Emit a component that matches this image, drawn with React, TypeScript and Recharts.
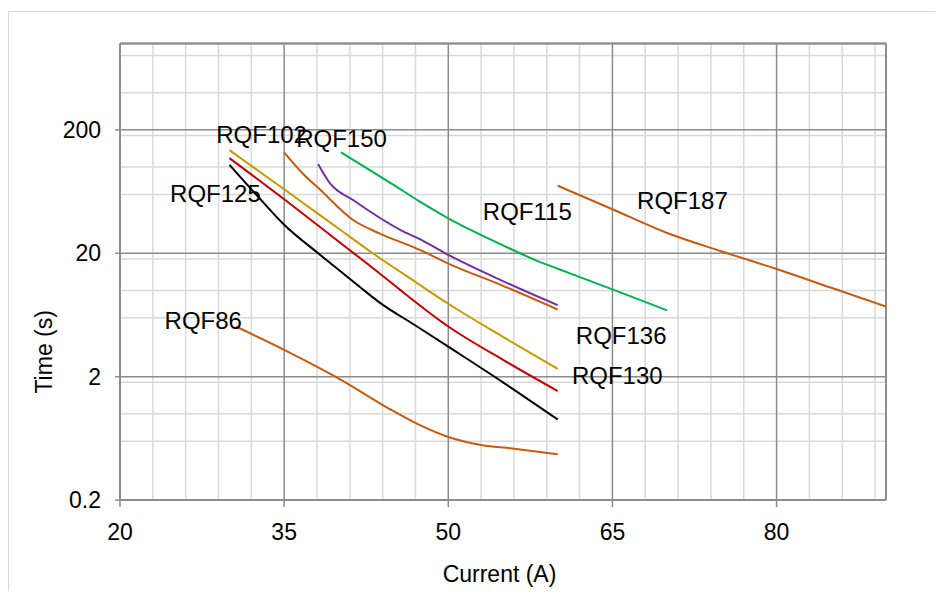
import React from "react";
import {
  CartesianGrid,
  Line,
  LineChart,
  ReferenceDot,
  ReferenceLine,
  XAxis,
  YAxis,
} from "recharts";

const FONT = '"Liberation Sans", Arial, Helvetica, sans-serif';

// axis ticks
const xTicks = [20, 35, 50, 65, 80];
const yTicks = [0.2, 2, 20, 200];
const xMinorTicks = [23, 26, 29, 32, 38, 41, 44, 47, 53, 56, 59, 62, 68, 71, 74, 77, 83, 86, 89];
const yMinorTicks = [
  0.4, 0.6, 0.8, 1, 1.2, 1.4, 1.6, 1.8,
  4, 6, 8, 10, 12, 14, 16, 18,
  40, 60, 80, 100, 120, 140, 160, 180,
  400, 600, 800,
];

// fuse curves: current (A) / time (s)
const blackX = [30, 32.5, 35, 38.3, 41.9, 43.7, 47, 50, 55, 60];
const blackY = [104, 59, 34, 19.4, 10.7, 8.0, 5.2, 3.5, 1.8, 0.9];

const redX = [30, 35, 40, 43.7, 45.6, 50, 55, 60];
const redY = [118, 54.8, 24.8, 13.8, 10.1, 5.1, 2.74, 1.53];

const goldX = [30, 35, 40, 43.1, 47, 50, 55, 60];
const goldY = [137, 66, 31.6, 20, 11.7, 7.8, 4.2, 2.31];

const orangeX = [35, 36.7, 38.3, 41.3, 43.7, 47.4, 50, 55, 60];
const orangeY = [131.6, 88.6, 65.3, 37.2, 29, 21.3, 16.5, 10.9, 7.0];

const purpleX = [38.1, 39.2, 41.3, 45.6, 47.4, 50, 55, 60];
const purpleY = [106, 73.8, 54, 31, 26, 19.4, 11.9, 7.6];

const greenX = [40.2, 45, 47.4, 50, 55, 58.3, 60, 65, 70];
const greenY = [131.6, 71.6, 52.4, 38.4, 23.2, 17.1, 15.0, 10.2, 6.9];

const rqf187X = [60, 65, 70, 75, 80, 85, 90];
const rqf187Y = [70.6, 45.5, 29.2, 20.7, 14.9, 10.5, 7.4];

const rqf86X = [30.6, 35, 40, 45, 47.4, 50, 53, 56.2, 60];
const rqf86Y = [5.1, 3.3, 1.93, 1.05, 0.81, 0.65, 0.56, 0.52, 0.47];

// curve labels, placed in data units
const labelNames = ["RQF102", "RQF150", "RQF125", "RQF86", "RQF115", "RQF136", "RQF130", "RQF187"];
const labelX = [32.94, 40.24, 28.72, 27.61, 57.22, 65.8, 65.44, 71.4];
const labelY = [184.6, 171.3, 61.4, 5.71, 43.6, 4.29, 2.03, 53.3];

const toPoints = (xs: number[], ys: number[]) => xs.map((x, i) => ({ x, y: ys[i] }));

const series = [
  { key: "black", color: "#000000", data: toPoints(blackX, blackY) },
  { key: "red", color: "#C00000", data: toPoints(redX, redY) },
  { key: "gold", color: "#C49A00", data: toPoints(goldX, goldY) },
  { key: "orange", color: "#C55A11", data: toPoints(orangeX, orangeY) },
  { key: "purple", color: "#7030A0", data: toPoints(purpleX, purpleY) },
  { key: "green", color: "#00B050", data: toPoints(greenX, greenY) },
  { key: "rqf187", color: "#C55A11", data: toPoints(rqf187X, rqf187Y) },
  { key: "rqf86", color: "#C55A11", data: toPoints(rqf86X, rqf86Y) },
];

const XTitle = (props: any) => {
  const { viewBox } = props;
  if (!viewBox) return null;
  return (
    <text
      x={viewBox.x + viewBox.width / 2 - 3.5}
      y={viewBox.y + 81.6}
      textAnchor="middle"
      fontSize={23}
      fill="#000"
      fontFamily={FONT}
    >
      Current (A)
    </text>
  );
};

const YTitle = (props: any) => {
  const { viewBox } = props;
  if (!viewBox) return null;
  const cx = viewBox.x + 44;
  const cy = viewBox.y + viewBox.height / 2 + 80;
  return (
    <text
      transform={`translate(${cx},${cy}) rotate(-90)`}
      textAnchor="middle"
      fontSize={23}
      fill="#000"
      fontFamily={FONT}
    >
      Time (s)
    </text>
  );
};

export default function App() {
  return (
    <div style={{ position: "relative", width: 927, height: 583, overflow: "hidden", fontFamily: FONT }}>
      {/* outer chart frame (only top/left are in view) */}
      <div
        style={{
          position: "absolute",
          left: 0,
          top: 3,
          width: 2000,
          height: 2000,
          borderLeft: "1.5px solid #d9d9d9",
          borderTop: "1.5px solid #d9d9d9",
        }}
      />
      <LineChart
        width={927}
        height={583}
        margin={{ top: 35.6, right: 49, bottom: 0, left: 0 }}
        style={{ position: "relative", fontFamily: FONT }}
      >
        {/* hidden axes that only drive the minor grid */}
        <XAxis xAxisId="minor" type="number" dataKey="x" domain={[20, 90]} ticks={xMinorTicks} allowDataOverflow hide />
        <YAxis
          yAxisId="minor"
          type="number"
          scale="log"
          domain={[0.2, 1000]}
          ticks={yMinorTicks}
          allowDataOverflow
          hide
        />
        <CartesianGrid xAxisId="minor" yAxisId="minor" stroke="#d9d9d9" strokeWidth={1.5} />
        <CartesianGrid stroke="#8c8c8c" strokeWidth={1.5} />

        <XAxis
          type="number"
          dataKey="x"
          domain={[20, 90]}
          ticks={xTicks}
          allowDataOverflow
          height={90.9}
          tickSize={7}
          tickMargin={17}
          tick={{ fill: "#000", fontSize: 23 }}
          axisLine={{ stroke: "#8c8c8c", strokeWidth: 2 }}
          tickLine={{ stroke: "#8c8c8c", strokeWidth: 1.5 }}
          label={<XTitle />}
        />
        <YAxis
          type="number"
          scale="log"
          domain={[0.2, 1000]}
          ticks={yTicks}
          allowDataOverflow
          width={112}
          tickSize={5}
          tickMargin={14}
          tickFormatter={(v) => String(v)}
          tick={{ fill: "#000", fontSize: 23 }}
          axisLine={{ stroke: "#8c8c8c", strokeWidth: 2 }}
          tickLine={{ stroke: "#8c8c8c", strokeWidth: 1.5 }}
          label={<YTitle />}
        />

        {/* plot area border, top and right */}
        <ReferenceLine y={1000} stroke="#8c8c8c" strokeWidth={2} />
        <ReferenceLine x={90} stroke="#8c8c8c" strokeWidth={2} />

        {series.map((s) => (
          <Line
            key={s.key}
            data={s.data}
            dataKey="y"
            type="monotone"
            stroke={s.color}
            strokeWidth={2}
            dot={false}
            activeDot={false}
            isAnimationActive={false}
          />
        ))}

        {labelNames.map((name, i) => (
          <ReferenceDot
            key={name}
            x={labelX[i]}
            y={labelY[i]}
            r={1}
            fill="none"
            stroke="none"
            label={{ value: name, position: "center", fontSize: 24, fill: "#000", fontFamily: FONT }}
          />
        ))}
      </LineChart>
    </div>
  );
}
